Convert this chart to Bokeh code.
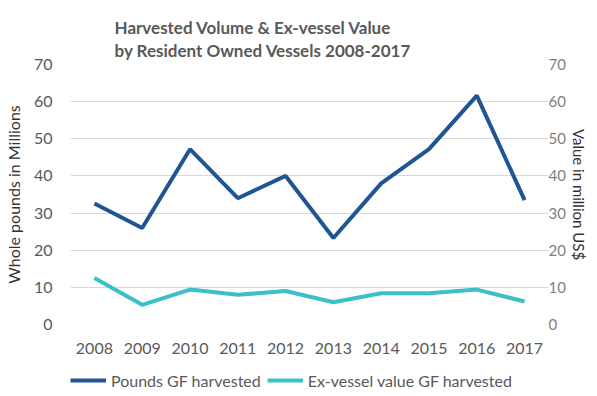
from bokeh.plotting import figure
from bokeh.layouts import column
from bokeh.models import Range1d, LinearAxis, Legend, LegendItem, Title, FixedTicker, FactorRange
from bokeh.embed import file_html
from bokeh.resources import INLINE

years = ["2008", "2009", "2010", "2011", "2012", "2013", "2014", "2015", "2016", "2017"]
pounds = [32.6, 26.0, 47.2, 34.0, 40.0, 23.3, 38.0, 47.2, 61.6, 33.5]
value = [12.5, 5.3, 9.4, 8.0, 9.0, 6.0, 8.4, 8.4, 9.4, 6.2]
left_ticks = [0, 10, 20, 30, 40, 50, 60, 70]
right_ticks = [0, 10, 20, 30, 40, 50, 60, 70]
title_lines = ["Harvested Volume & Ex-vessel Value", "by Resident Owned Vessels 2008-2017"]
series_names = ["Pounds GF harvested", "Ex-vessel value GF harvested"]

FONT = "Lato"
GREY = "#595959"
DARK = "#1f5592"
TEAL = "#3bbfc8"

p = figure(x_range=years, y_range=Range1d(0, 70), frame_width=478, frame_height=260,
           output_backend="svg", toolbar_location=None,
           min_border_left=66, min_border_right=37, min_border_top=64, min_border_bottom=38)
p.extra_y_ranges = {"value": Range1d(0, 70)}
p.outline_line_color = None
p.background_fill_color = "white"
p.border_fill_color = "white"

p.line(x=years, y=pounds, line_color=DARK, line_width=4)
p.line(x=years, y=value, line_color=TEAL, line_width=4, y_range_name="value")

p.xgrid.grid_line_color = None
p.ygrid.grid_line_color = "#d9d9d9"
p.ygrid.grid_line_width = 1

# left axis
ya = p.yaxis[0]
ya.ticker = FixedTicker(ticks=left_ticks)
ya.axis_line_color = None
ya.major_tick_line_color = None
ya.minor_tick_line_color = None
ya.major_tick_out = 0
ya.major_tick_in = 0
ya.minor_tick_out = 0
ya.major_label_standoff = 18
ya.major_label_text_font = FONT
ya.major_label_text_font_size = "16px"
ya.major_label_text_color = GREY
ya.axis_label = "Whole pounds in Millions"
ya.axis_label_text_font = FONT
ya.axis_label_text_font_size = "16px"
ya.axis_label_text_font_style = "normal"
ya.axis_label_text_color = "#333333"
ya.axis_label_standoff = 8

# right axis
ra = LinearAxis(y_range_name="value", ticker=FixedTicker(ticks=right_ticks))
ra.axis_line_color = None
ra.major_tick_line_color = None
ra.minor_tick_line_color = None
ra.major_tick_out = 0
ra.major_tick_in = 0
ra.minor_tick_out = 0
ra.major_label_standoff = 0
ra.major_label_text_font = FONT
ra.major_label_text_font_size = "15px"
ra.major_label_text_color = "#808080"
ra.axis_label = "Value in million US$"
ra.axis_label_text_font = FONT
ra.axis_label_text_font_size = "15px"
ra.axis_label_text_font_style = "normal"
ra.axis_label_text_color = "#333333"
ra.axis_label_standoff = 1
p.add_layout(ra, "right")

# x axis
xa = p.xaxis[0]
xa.axis_line_color = None
xa.major_tick_line_color = None
xa.minor_tick_line_color = None
xa.major_tick_out = 0
xa.major_tick_in = 0
xa.minor_tick_out = 0
xa.major_label_standoff = 18
xa.major_label_text_font = FONT
xa.major_label_text_font_size = "16px"
xa.major_label_text_color = GREY

# two-line title
t = Title(text="\n".join(title_lines), align="left", offset=44,
          text_font=FONT, text_font_size="17px", text_font_style="bold",
          text_color=GREY, text_line_height=1.12, standoff=6)
p.add_layout(t, "above")

# legend strip below the chart (lines kept out of view, only their legend glyphs show)
lg = figure(x_range=FactorRange(*years), y_range=Range1d(-20, -10), width=581, height=30,
            output_backend="svg", toolbar_location=None,
            min_border=0, x_axis_location=None, y_axis_location=None)
lg.outline_line_color = None
lg.grid.grid_line_color = None
lg.background_fill_color = "white"
lg.border_fill_color = "white"
k1 = lg.line(x=years, y=pounds, line_color=DARK, line_width=4)
k2 = lg.line(x=years, y=value, line_color=TEAL, line_width=4)
legend = Legend(items=[LegendItem(label=series_names[0], renderers=[k1]),
                       LegendItem(label=series_names[1], renderers=[k2])],
                orientation="horizontal", location=(0, 2),
                glyph_width=36, glyph_height=20, label_standoff=5, spacing=6,
                padding=0, margin=0, border_line_color=None, background_fill_alpha=0,
                label_text_font=FONT, label_text_font_size="16px", label_text_color=GREY)
lg.add_layout(legend)

layout = column(p, lg, spacing=0)
open("out.html", "w").write(file_html(layout, INLINE))
